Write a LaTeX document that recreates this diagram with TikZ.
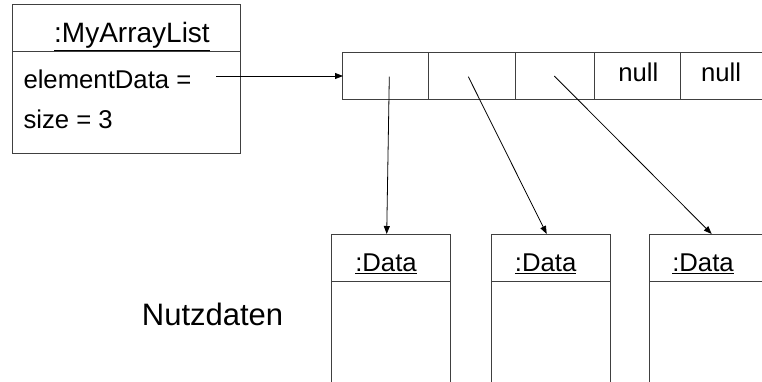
\documentclass[tikz,border=0pt]{standalone}
\usepackage{fontspec}
\setmainfont{Liberation Sans}
\usetikzlibrary{arrows.meta}
\begin{document}
\begin{tikzpicture}[x=1pt,y=-1pt,
  boxline/.style={draw=black!75,line width=1pt},
  ptr/.style={draw=black,line width=0.8pt,-{Triangle[length=8pt,width=6pt]}},
  txt/.style={inner sep=0pt,anchor=base,font=\fontsize{25.7}{30}\selectfont},
  ttl/.style={inner sep=0pt,anchor=base,font=\fontsize{28}{32}\selectfont},
  big/.style={inner sep=0pt,anchor=base west,font=\fontsize{31}{36}\selectfont}]
\useasboundingbox (0,0) rectangle (762,382);
\clip (0,0) rectangle (762,382);
% MyArrayList object
\draw[boxline] (12,5) rectangle (240,154);
\draw[boxline] (12,52) -- (240,52);
\node[ttl] (title) at (132,42.7) {\underline{:MyArrayList}};
\node[txt,anchor=base west] (ed) at (23.3,88.3) {elementData =};
\node[txt,anchor=base west] (sz) at (23.3,128.3) {size = 3};
% array
\draw[boxline] (770,52.7) -- (342.7,52.7) -- (342.7,100) -- (770,100);
\draw[boxline] (428.3,52.7) -- (428.3,100);
\draw[boxline] (515.3,52.7) -- (515.3,100);
\draw[boxline] (594.3,52.7) -- (594.3,100);
\draw[boxline] (680.7,52.7) -- (680.7,100);
\node[txt] (n1) at (638.3,81.7) {null};
\node[txt] (n2) at (721,81.7) {null};
% data objects
\draw[boxline] (331.7,390) -- (331.7,234) -- (450,234) -- (450,390);
\draw[boxline] (331.7,281) -- (450,281);
\draw[boxline] (491.7,390) -- (491.7,234) -- (610,234) -- (610,390);
\draw[boxline] (491.7,281) -- (610,281);
\draw[boxline] (649.3,390) -- (649.3,234) -- (770,234);
\draw[boxline] (649.3,281) -- (770,281);
\node[txt] (d1) at (386,271.7) {\underline{:Data}};
\node[txt] (d2) at (545.7,271.7) {\underline{:Data}};
\node[txt] (d3) at (703,271.7) {\underline{:Data}};
\node[big] (nutz) at (141.7,325) {Nutzdaten};
% connector ends
\coordinate (edstart) at (216,76);
\coordinate (arr) at (343,76);
\coordinate (p1) at (389.3,76.7);
\coordinate (p2) at (468.3,76.7);
\coordinate (p3) at (554.3,76);
\coordinate (t1) at (386.7,234);
\coordinate (t2) at (546.7,234);
\coordinate (t3) at (711.7,234);
\draw[ptr] (edstart) -- (arr);
\draw[ptr] (p1) -- (t1);
\draw[ptr] (p2) -- (t2);
\draw[ptr] (p3) -- (t3);
\end{tikzpicture}
\end{document}
